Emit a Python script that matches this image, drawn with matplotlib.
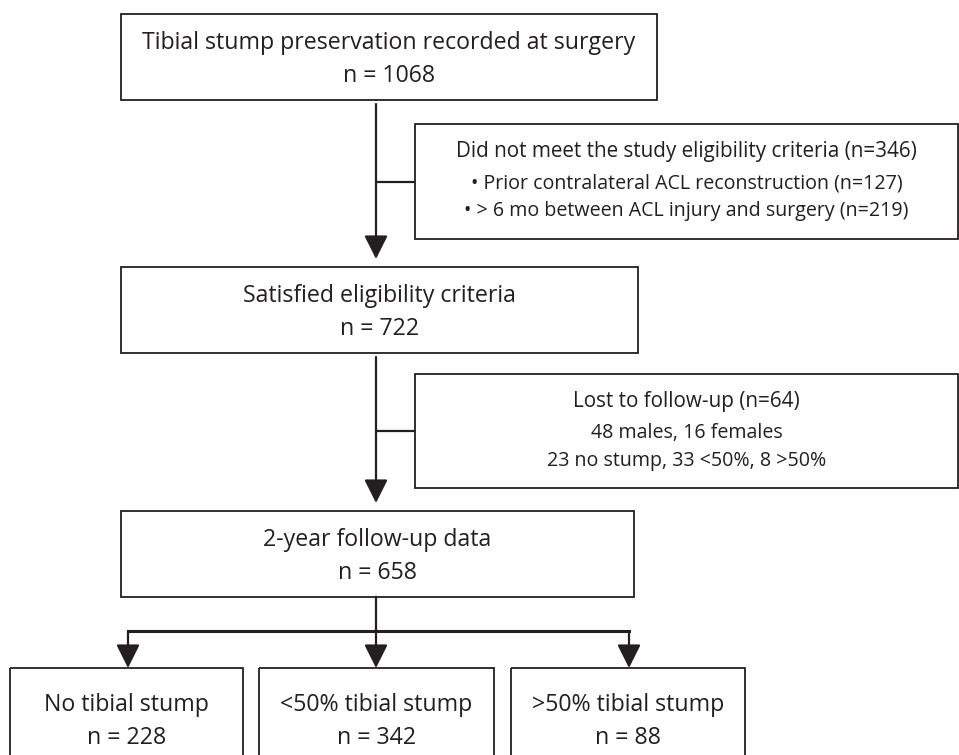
import matplotlib.pyplot as plt
from matplotlib.patches import Rectangle

plt.rcParams['font.family'] = ['Open Sans', 'DejaVu Sans']

# ---- content ----
main_titles = ["Tibial stump preservation recorded at surgery",
               "Satisfied eligibility criteria",
               "2-year follow-up data"]
main_counts = [1068, 722, 658]

excl_titles = ["Did not meet the study eligibility criteria (n=346)",
               "Lost to follow-up (n=64)"]
excl_details = [["\u2022 Prior contralateral ACL reconstruction (n=127)",
                 "\u2022 > 6 mo between ACL injury and surgery (n=219)"],
                ["48 males, 16 females",
                 "23 no stump, 33 <50%, 8 >50%"]]

group_labels = ["No tibial stump", "<50% tibial stump", ">50% tibial stump"]
group_counts = [228, 342, 88]

# ---- layout (pixels, y down) ----
W, H = 959, 755
main_boxes = [(121, 14, 657, 100), (121, 267, 638, 353), (121, 511, 634, 597)]
excl_boxes = [(415, 124, 958, 239), (415, 374, 958, 488)]
group_boxes = [(10, 668, 243, 760), (259, 668, 494, 760), (511, 668, 745, 760)]
spine_x = 376
branch_y = 631
branch_x = [128, 376, 629]
COL = "#231f20"
LW = 1.6
FS_MAIN, FS_EXCL, FS_SUB = 16.7, 14.9, 14.1

fig = plt.figure(figsize=(W / 100, H / 100), dpi=100)
ax = fig.add_axes([0, 0, 1, 1])
ax.set_xlim(0, W)
ax.set_ylim(H, 0)
ax.axis("off")


def box(b, lw=1.3):
    x0, y0, x1, y1 = b
    ax.add_patch(Rectangle((x0, y0), x1 - x0, y1 - y0, fill=False,
                           edgecolor=COL, lw=lw))


def arrow(x, y0, y1):
    ax.annotate("", xy=(x, y1), xytext=(x, y0),
                arrowprops=dict(arrowstyle="-|>,head_length=0.9,head_width=0.45",
                                color=COL, lw=LW, shrinkA=0, shrinkB=0,
                                mutation_scale=16))


# main column
for b, t, n in zip(main_boxes, main_titles, main_counts):
    box(b)
    cx = (b[0] + b[2]) / 2
    ax.text(cx, b[1] + 29, t, ha="center", va="center", fontsize=FS_MAIN, color=COL)
    ax.text(cx, b[1] + 62, f"n = {n}", ha="center", va="center", fontsize=FS_MAIN, color=COL)

# spine arrows with side branches to exclusion boxes
for i, eb in enumerate(excl_boxes):
    top = main_boxes[i][3] + 4
    bot = main_boxes[i + 1][1] - 8
    arrow(spine_x, top, bot)
    cy = (eb[1] + eb[3]) / 2
    ax.plot([spine_x, eb[0]], [cy, cy], color=COL, lw=LW, solid_capstyle="butt")
    box(eb)
    ecx = (eb[0] + eb[2]) / 2
    ax.text(ecx, eb[1] + 28, excl_titles[i], ha="center", va="center", fontsize=FS_EXCL, color=COL)
    for k, line in enumerate(excl_details[i]):
        ax.text(ecx, eb[1] + 59 + 28 * k, line, ha="center", va="center",
                fontsize=FS_SUB, color=COL)

# split into stump groups
last = main_boxes[-1]
ax.plot([spine_x, spine_x], [last[3], branch_y], color=COL, lw=LW)
ax.plot([branch_x[0], branch_x[-1]], [branch_y, branch_y], color=COL, lw=LW + 0.6,
        solid_capstyle="projecting")
for x, b, lab, n in zip(branch_x, group_boxes, group_labels, group_counts):
    arrow(x, branch_y, b[1])
    box(b)
    cx = (b[0] + b[2]) / 2
    ax.text(cx, 705, lab, ha="center", va="center", fontsize=FS_MAIN, color=COL)
    ax.text(cx, 738, f"n = {n}", ha="center", va="center", fontsize=FS_MAIN, color=COL)

fig.savefig("out.png", dpi=100)
